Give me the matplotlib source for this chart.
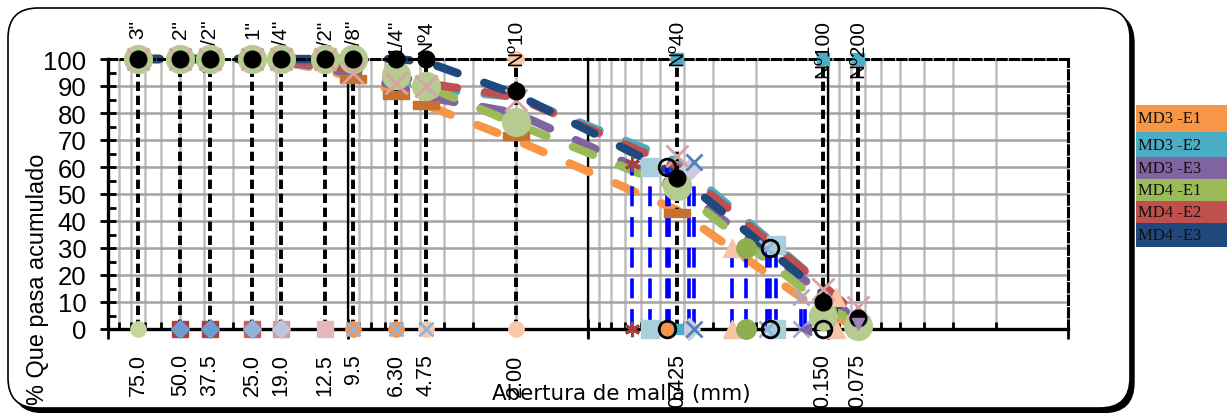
import matplotlib
matplotlib.use('Agg')
import matplotlib.pyplot as plt
from matplotlib.patches import FancyBboxPatch, Rectangle
from matplotlib.transforms import IdentityTransform
from matplotlib.ticker import FixedLocator, NullFormatter

plt.rcParams['font.family'] = ['Liberation Sans', 'DejaVu Sans']

# ---------------- data ----------------
# sieve positions as plotted (the Nº100 sieve sits at ~0.105 on the chart)
sieve_pos = [75, 50, 37.5, 25, 19, 12.5, 9.5, 6.3, 4.75, 2.0, 0.425, 0.105, 0.075]
sieve_top = ['3"', '2"', '1 1/2"', '1"', '3/4"', '1/2"', '3/8"', '1/4"',
             'Nº4', 'Nº10', 'Nº40', 'Nº100', 'Nº200']
sieve_bottom = ['75.0', '50.0', '37.5', '25.0', '19.0', '12.5', '9.5', '6.30',
                '4.75', '2.00', '0.425', '0.150', '0.075']

series_names = ['MD3 -E1', 'MD3 -E2', 'MD3 -E3', 'MD4 -E1', 'MD4 -E2', 'MD4 -E3']
series_colors = ['#F79646', '#4BACC6', '#8064A2', '#9BBB59', '#C0504D', '#1F497D']
md3_e1 = [100, 100, 100, 100, 99, 96, 93, 88, 83, 70, 44, 6, 1]
md3_e2 = [100, 100, 100, 100, 100, 98, 95, 92, 89, 86, 62, 16, 5]
md3_e3 = [100, 100, 100, 100, 99, 97, 94, 90, 86, 80, 53, 13, 3]
md4_e1 = [100, 100, 100, 100, 100, 98, 97, 94, 90, 76, 52, 9, 2]
md4_e2 = [100, 100, 100, 100, 100, 98, 96, 94, 91, 86, 60, 16, 5]
md4_e3 = [100, 100, 100, 100, 100, 100, 100, 100, 99, 87, 57, 13, 4]
series_values = [md3_e1, md3_e2, md3_e3, md4_e1, md4_e2, md4_e3]

limit_y = [100, 100, 100, 100, 100, 100, 100, 100, 100, 88, 56, 10, 4]
green_big_y = [100, 100, 100, 100, 100, 100, 100, 94, 90, 76.5, 53, 5, 1]
pink_x_y = [100, 100, 100, 100, 100, 100, 95, 91, 90, 85, 64, 15, 8]

bar_x = [9.5, 6.3, 4.75, 2.0, 0.425]
bar_y = [92.5, 86.5, 83, 71.5, 43]

# solid black reference lines (x, y from, y to)
ref_x = [10, 1, 0.1]
ref_y0 = [-3, -3, 12]
ref_y1 = [93, 100, 100]

# points with blue drop lines
ast_x, ast_y = [0.656], [61]
lbsq_x, lbsq_y = [0.55, 0.165], [60, 31]
hollow_x, hollow_y = [0.47, 0.175], [60, 30]
plain_x, plain_y = [0.46, 0.125, 0.11], [58, 11, 12]
diam_x, diam_y = [0.38], [59]
bx_x, bx_y = [0.36], [62]
tri_x, tri_y = [0.25, 0.093], [30, 12]
gc_x, gc_y = [0.22], [30]
lbx_x, lbx_y = [0.18], [30]
lpx_x, lpx_y = [0.13], [12]

# ---------------- figure ----------------
W, H = 1227, 414
fig = plt.figure(figsize=(W / 100, H / 100), dpi=100)

# rounded frame with shadow (pixel coordinates)
shadow = FancyBboxPatch((13, 0.5), 1121, 400, boxstyle="round,pad=0,rounding_size=30",
                        transform=IdentityTransform(), facecolor='black',
                        edgecolor='black', zorder=-3)
frame = FancyBboxPatch((8, 5), 1122, 400, boxstyle="round,pad=0,rounding_size=30",
                       transform=IdentityTransform(), facecolor='white',
                       edgecolor='black', lw=1.2, zorder=-2)
fig.add_artist(shadow)
fig.add_artist(frame)

ax = fig.add_axes([108 / W, 84 / H, 960 / W, 270 / H])
ax.set_xscale('log')
ax.set_xlim(100, 0.01)
ax.set_ylim(0, 100)

# grid
ax.xaxis.set_major_locator(FixedLocator([100, 10, 1, 0.1, 0.01]))
minors = [m * 10.0 ** e for e in (-2, -1, 0, 1) for m in range(2, 10)]
ax.xaxis.set_minor_locator(FixedLocator(minors))
ax.xaxis.set_major_formatter(NullFormatter())
ax.xaxis.set_minor_formatter(NullFormatter())
ax.set_yticks(range(0, 101, 10))
ax.set_yticks(range(5, 100, 10), minor=True)
ax.grid(True, which='both', axis='x', color='#BEBEBE', lw=1.8, zorder=0)
ax.grid(True, which='major', axis='y', color='#A3A3A3', lw=1.8, zorder=0)
ax.set_axisbelow(True)

for s in ('left', 'bottom'):
    ax.spines[s].set_linewidth(2.4)
for s in ('top', 'right'):
    ax.spines[s].set_linewidth(2.2)
    ax.spines[s].set_linestyle((0, (2.7, 1.4)))

ax.tick_params(axis='y', which='major', direction='inout', length=11, width=2,
               labelsize=18.5, pad=10)
ax.tick_params(axis='y', which='minor', direction='in', length=6, width=2)
ax.tick_params(axis='x', which='major', direction='inout', length=14, width=2)
ax.tick_params(axis='x', which='minor', direction='in', length=5, width=2)

# solid reference lines
for x, a, b in zip(ref_x, ref_y0, ref_y1):
    ax.plot([x, x], [a, b], color='black', lw=1.6, zorder=1.5, clip_on=False)

# gradation series: thick long-dash lines with round caps
for vals, col in zip(series_values, series_colors):
    ax.plot(sieve_pos, vals, color=col, lw=6.0, linestyle=(0, (2.6, 3.4)),
            dash_capstyle='round', solid_capstyle='round', zorder=2, clip_on=False)

# sieve dashed lines
ax.vlines(sieve_pos, 0, 100, colors='black', lw=2.8, linestyles=[(0, (2.4, 1.2))],
          zorder=3)

# blue drop lines
drop_x = ast_x + lbsq_x + hollow_x + plain_x + diam_x + bx_x + tri_x + gc_x + lbx_x + lpx_x
drop_y = ast_y + lbsq_y + hollow_y + plain_y + diam_y + bx_y + tri_y + gc_y + lbx_y + lpx_y
ax.vlines(drop_x, 0, drop_y, colors='#0000FF', lw=2.6, linestyles=[(0, (5.5, 3))],
          zorder=3.5)

mk = dict(linestyle='none', clip_on=False)
# markers at drop points (top and bottom)
for xs, ys, kw in [
    (ast_x, ast_y, dict(marker=(6, 2, 0), ms=11, mew=2.2, color='#A4413D')),
    (lbsq_x, lbsq_y, dict(marker='s', ms=13, color='#A9CFDD')),
    (diam_x, diam_y, dict(marker='D', ms=11, color='#CDC9E0')),
    (bx_x, bx_y, dict(marker='x', ms=11, mew=2, color='#4F81BD')),
    (tri_x, tri_y, dict(marker='^', ms=13, color='#F8C4A6')),
    (gc_x, gc_y, dict(marker='o', ms=14, color='#8FAE4F')),
    (lbx_x, lbx_y, dict(marker='x', ms=11, mew=2, color='#95B3D7')),
    (lpx_x, lpx_y, dict(marker='x', ms=11, mew=2, color='#A7A8D8')),
]:
    ax.plot(xs, ys, zorder=4, **kw, **mk)
    ax.plot(xs, [0] * len(xs), zorder=4, **kw, **mk)
ax.plot([0.125], [0], marker='<', ms=8, color='#7F64A2', zorder=4, **mk)
ax.plot([0.47], [0], marker='o', ms=9, color='#F79646', zorder=4, **mk)
ax.plot([0.42], [0], marker='s', ms=7, color='#4BACC6', zorder=4, **mk)
ax.plot([0.075], [2], marker='v', ms=9, color='#9C83BA', zorder=6.5, **mk)

# coarse markers at 0
ax.plot([75], [0], marker='o', ms=11, color='#C3D69B', zorder=4, **mk)
sq_x = [50, 37.5, 25, 19, 12.5]
sq_c = ['#A5433E', '#A5433E', '#C4615E', '#D79A98', '#E4B9B8']
for x, c in zip(sq_x, sq_c):
    ax.plot([x], [0], marker='s', ms=11, color=c, zorder=4, **mk)
dm_x = [50, 37.5, 25, 19]
dm_c = ['#6E9BD0', '#6E9BD0', '#93B3DD', '#B8C8E4']
for x, c in zip(dm_x, dm_c):
    ax.plot([x], [0], marker='D', ms=9, color=c, zorder=4.1, **mk)
ax.plot([9.5, 6.3], [0, 0], marker='o', ms=11, color='#F79646', zorder=4, **mk)
ax.plot([4.75, 2.0], [0, 0], marker='o', ms=11, color='#FAC8A6', zorder=4, **mk)
ax.plot([9.5, 6.3, 4.75], [0, 0, 0], marker='x', ms=10, mew=2, color='#95B3D7',
        zorder=4.1, **mk)

# top markers
ax.plot([2.0], [100], marker='o', ms=11, color='#FAC8A6', zorder=4, **mk)
ax.plot([0.425, 0.105, 0.075], [100, 100, 100], marker='s', ms=8, color='#4BACC6',
        zorder=4, **mk)

# orange-brown bars
bar_marker = [(-1, -0.3), (1, -0.3), (1, 0.3), (-1, 0.3), (-1, -0.3)]
ax.plot(bar_x, bar_y, marker=bar_marker, ms=19, color='#C6722E', zorder=4.5, **mk)

# big green circles, pink crosses, black dots
ax.plot(sieve_pos, green_big_y, marker='o', ms=20, color='#B5CB8F', zorder=5, **mk)
ax.plot(sieve_pos, pink_x_y, marker='x', ms=16, mew=2, color='#D9A3A3', zorder=5.5, **mk)
ax.plot(sieve_pos, limit_y, marker='o', ms=12, color='black', zorder=6, **mk)
ax.plot(hollow_x + [0.105], hollow_y + [0], marker='o', ms=12, mfc='none', mec='black',
        mew=2, zorder=6, **mk)
ax.plot(hollow_x, [0, 0], marker='o', ms=12, mfc='none', mec='black', mew=2, zorder=6,
        **mk)

# labels along the sieves
tx = ax.get_xaxis_transform()
for x, t in zip(sieve_pos, sieve_top):
    ax.text(x, 1.148, t, rotation=90, ha='center', va='top', fontsize=15,
            transform=tx, zorder=4.8)
for x, t in zip(sieve_pos, sieve_bottom):
    ax.text(x, -0.09, t, rotation=90, ha='center', va='top', fontsize=15.5,
            transform=tx)

fig.text(621 / W, (H - 394) / H, 'Abertura de malla (mm)', ha='center', va='center',
         fontsize=15.4, family='DejaVu Sans')
fig.text(38 / W, (H - 279) / H, '% Que pasa acumulado', rotation=90, ha='center',
         va='center', fontsize=16.9)

# legend (colored rows outside the frame)
rows = [(106, 133), (133, 158), (158, 180), (180, 202), (202, 224), (224, 248)]
for (t, b), name, col in zip(rows, series_names, series_colors):
    fig.add_artist(Rectangle((1136, H - b), 100, b - t, transform=IdentityTransform(),
                             facecolor=col, edgecolor='none'))
    fig.text(1138 / W, (H - (t + b) / 2) / H, name, ha='left', va='center',
             fontsize=12, family='Liberation Serif', color='#111111')

fig.savefig('out.png', dpi=100)
